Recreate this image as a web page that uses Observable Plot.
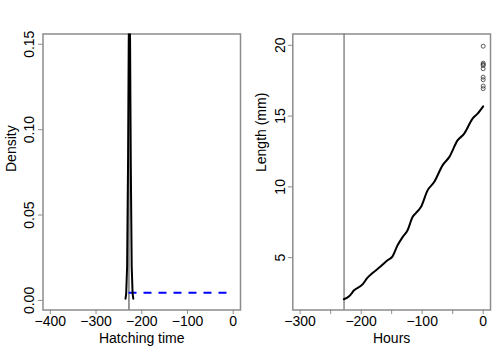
<!DOCTYPE html>
<html><head><meta charset="utf-8">
<script src="https://cdn.jsdelivr.net/npm/d3@7"></script>
<script src="https://cdn.jsdelivr.net/npm/@observablehq/plot@0.6"></script>
<style>
body{margin:0;background:#fff;}
#wrap{display:flex;width:498px;height:353px;}
#wrap svg{display:block;}
</style></head><body><div id="wrap"></div>
<script>
// Left panel: density of hatching time
const densityX = [-235.5, -234, -232, -230, -228.5, -227, -225.5, -224, -222, -220, -218.5];
const densityY = [0.001, 0.004, 0.02, 0.08, 0.15, 0.19, 0.15, 0.08, 0.02, 0.004, 0.001];
const uniformX = [-229, -6];
const uniformY = [0.0045, 0.0045];
const hatchMark = [-228];
const hatchTicks = [-400, -300, -200, -100, 0];
const densityTicks = [0, 0.05, 0.10, 0.15];

// Right panel: back-calculated growth
const growthHours = [-228.4, -219.7, -211.5, -197.7, -189.5, -181.3, -167.7, -156.7, -148.5, -140.3, -132.1, -123.9, -115.7, -110.3, -102.1, -91.1, -80.3, -66.6, -55.7, -42.0, -31.1, -17.4, -9.2, 0];
const growthLength = [2.06, 2.27, 2.69, 3.11, 3.59, 3.91, 4.39, 4.81, 5.09, 5.87, 6.45, 6.93, 7.87, 8.15, 8.57, 9.75, 10.34, 11.52, 12.10, 13.28, 13.76, 14.82, 15.17, 15.69];
const obsHours = [0, 0, 0, 0, 0, 0, 0, 0, 0];
const obsLength = [19.94, 18.74, 18.65, 18.58, 18.35, 17.75, 17.57, 17.12, 16.94];
const hourTicks = [-300, -250, -200, -150, -100, -50, 0];
const hourLabels = [-300, -200, -100, 0];
const lengthTicks = [5, 10, 15, 20];

const fmtMinus = d => d < 0 ? "\u2212" + Math.abs(d) : String(d);
const style = {fontFamily: "'Liberation Sans', Arial, sans-serif", fontSize: "14px", color: "black", background: "white", overflow: "visible"};
const boxStroke = "#8c8c8c";

const dens = densityX.map((x, i) => ({x, y: densityY[i]}));
const unif = uniformX.map((x, i) => ({x, y: uniformY[i]}));
const growth = growthHours.map((x, i) => ({x, y: growthLength[i]}));
const obs = obsHours.map((x, i) => ({x, y: obsLength[i]}));

const left = Plot.plot({
  width: 249, height: 353,
  marginLeft: 42.5, marginRight: 9, marginTop: 33.5, marginBottom: 43.5,
  style,
  x: {domain: [-416, 16]},
  y: {domain: [-0.0056, 0.156]},
  marks: [
    Plot.frame({stroke: boxStroke, strokeWidth: 1.5}),
    Plot.axisX(hatchTicks, {tickSize: 4.5, tickFormat: () => "", label: null, stroke: boxStroke}),
    Plot.axisY(densityTicks, {tickSize: 4.5, tickFormat: () => "", label: null, stroke: boxStroke}),
    Plot.text(hatchTicks, {x: d => d, text: fmtMinus, frameAnchor: "bottom", dy: 11.5, lineAnchor: "middle", fontSize: 14}),
    Plot.text(densityTicks, {y: d => d, text: d => d3.format(".2f")(d), frameAnchor: "left", dx: -13.5, rotate: -90, textAnchor: "middle", lineAnchor: "middle", fontSize: 14}),
    Plot.text(["Density"], {text: d => d, frameAnchor: "left", dx: -31, rotate: -90, lineAnchor: "middle", fontSize: 14}),
    Plot.text(["Hatching time"], {text: d => d, frameAnchor: "bottom", dy: 28.5, lineAnchor: "middle", fontSize: 14}),
    Plot.ruleX(hatchMark, {stroke: "#555", strokeWidth: 1.2}),
    Plot.line(unif, {x: "x", y: "y", stroke: "#0000ff", strokeWidth: 2, strokeDasharray: "8,7", strokeLinecap: "butt"}),
    Plot.line(dens, {x: "x", y: "y", stroke: "black", strokeWidth: 2, clip: true})
  ]
});

const right = Plot.plot({
  width: 249, height: 353,
  marginLeft: 43.3, marginRight: 8, marginTop: 33.5, marginBottom: 43.5,
  style,
  x: {domain: [-312, 12]},
  y: {domain: [1.3, 20.8]},
  marks: [
    Plot.frame({stroke: boxStroke, strokeWidth: 1.5}),
    Plot.axisX(hourTicks, {tickSize: 4.5, tickFormat: () => "", label: null, stroke: boxStroke}),
    Plot.axisY(lengthTicks, {tickSize: 4.5, tickFormat: () => "", label: null, stroke: boxStroke}),
    Plot.text(hourLabels, {x: d => d, text: fmtMinus, frameAnchor: "bottom", dy: 11.5, lineAnchor: "middle", fontSize: 14}),
    Plot.text(lengthTicks, {y: d => d, text: d => String(d), frameAnchor: "left", dx: -12.5, rotate: -90, textAnchor: "middle", lineAnchor: "middle", fontSize: 14}),
    Plot.text(["Length (mm)"], {text: d => d, frameAnchor: "left", dx: -31, rotate: -90, lineAnchor: "middle", fontSize: 14}),
    Plot.text(["Hours"], {text: d => d, frameAnchor: "bottom", dy: 28.5, lineAnchor: "middle", fontSize: 14}),
    Plot.ruleX(hatchMark, {stroke: "#777", strokeWidth: 1.3}),
    Plot.line(growth, {x: "x", y: "y", stroke: "black", strokeWidth: 2, curve: "monotone-x"}),
    Plot.dot(obs, {x: "x", y: "y", r: 2, stroke: "#333", strokeWidth: 0.8, fill: "none"})
  ]
});

document.getElementById("wrap").append(left, right);
</script></body></html>
